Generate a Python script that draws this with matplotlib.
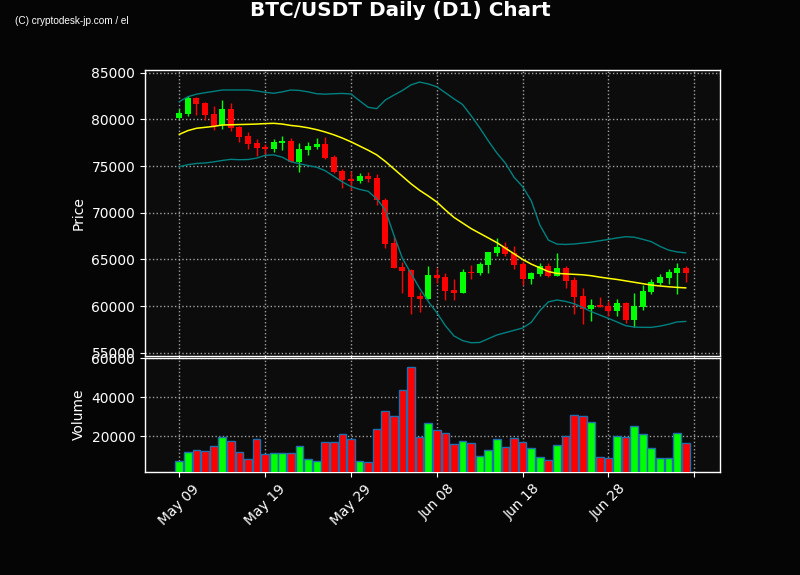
import numpy as np
import matplotlib
matplotlib.use("Agg")
import matplotlib.pyplot as plt

# ---- data ----
opens = [80150, 80600, 82290, 81720, 80575, 79360, 81110, 79180, 78220, 77500,
         77040, 76860, 77500, 77680, 75460, 76720, 77000, 77390, 75970, 74470,
         73610, 73400, 73930, 73730, 71400, 66750, 64180, 63860, 61075, 60790,
         63325, 63110, 61720, 61400, 63680, 63570, 64430, 65690, 66290, 65710,
         64500, 62930, 63430, 64320, 63250, 64075, 62790, 61075, 59710, 60110,
         60000, 59500, 60330, 58500, 59930, 61500, 62470, 63000, 63540, 64075]
highs = [81100, 82500, 82400, 81830, 81430, 82075, 81720, 79290, 78610, 77860,
         77360, 77930, 78220, 77970, 77440, 77540, 77970, 78080, 76180, 74650,
         74500, 74220, 74330, 74130, 71550, 67430, 64750, 63940, 61500, 64290,
         64110, 63510, 62860, 63940, 64400, 64750, 65830, 67260, 66890, 66430,
         64790, 63640, 64580, 64580, 65650, 64290, 63140, 61900, 60730, 60940,
         60570, 60730, 60450, 61360, 62250, 62930, 63430, 63930, 64640, 64290]
lows = [80050, 80330, 80440, 79900, 78830, 78940, 78720, 77600, 76790, 76075,
        76150, 76540, 76720, 75400, 74330, 76150, 76860, 75720, 74220, 72610,
        72430, 73150, 73320, 70800, 66190, 64040, 61360, 59150, 59390, 60725,
        62440, 60650, 60680, 61380, 62860, 63360, 63570, 65320, 65360, 63940,
        62220, 62360, 63220, 63140, 63180, 61900, 59120, 58075, 58370, 59890,
        58960, 58900, 58200, 57790, 59570, 61260, 62250, 62390, 61260, 62610]
closes = [80680, 82290, 81680, 80500, 79290, 81110, 79110, 78140, 77390, 76960,
          76860, 77575, 77680, 75460, 76830, 77180, 77360, 75860, 74360, 73540,
          73430, 73930, 73610, 71380, 66650, 64075, 63790, 61000, 60790, 63325,
          63040, 61640, 61400, 63650, 63570, 64500, 65760, 66330, 65610, 64430,
          62930, 63540, 64290, 63250, 64075, 62680, 61000, 59680, 60140, 59930,
          59500, 60330, 58540, 60000, 61610, 62580, 63140, 63640, 64110, 63540]
volumes = [7180, 11790, 12820, 12310, 15030, 19490, 17440, 11790, 8200, 18460,
           10770, 11280, 11280, 11280, 15030, 8200, 7180, 16920, 16920, 21030,
           18460, 7180, 6670, 23590, 32820, 30410, 43740, 55380, 19490, 26670,
           23080, 21540, 16050, 17440, 16410, 9740, 12820, 18460, 14360, 18970,
           16920, 13850, 9230, 7690, 15380, 20000, 30770, 30260, 27180, 9230,
           8720, 20000, 19490, 25130, 21030, 13850, 8720, 8720, 21540, 16410]
ma20 = [78400, 78800, 79050, 79150, 79250, 79400, 79420, 79450, 79470, 79500,
        79550, 79580, 79500, 79350, 79250, 79100, 78900, 78650, 78350, 78000,
        77600, 77150, 76700, 76200, 75500, 74700, 73900, 73100, 72400, 71800,
        71150, 70300, 69500, 68900, 68300, 67800, 67300, 66800, 66200, 65600,
        65000, 64500, 64100, 63700, 63500, 63450, 63400, 63350, 63250, 63100,
        62970, 62850, 62700, 62550, 62400, 62250, 62150, 62070, 62000, 61950]
bb_upper = [81900, 82430, 82700, 82860, 83000, 83150, 83150, 83150, 83150, 83050,
            82900, 82800, 82950, 83150, 83100, 82950, 82750, 82700, 82750, 82780,
            82720, 82000, 81300, 81150, 82075, 82600, 83100, 83700, 84000, 83800,
            83500, 82850, 82200, 81600, 80400, 79100, 77700, 76400, 75300, 73800,
            72800, 71300, 68700, 67070, 66640, 66600, 66650, 66750, 66850, 67000,
            67140, 67300, 67430, 67380, 67150, 66900, 66400, 66000, 65800, 65700]
bb_lower = [74930, 75150, 75280, 75330, 75450, 75600, 75720, 75680, 75700, 75850,
            76150, 76200, 75950, 75460, 75250, 75050, 74880, 74500, 73900, 73300,
            72800, 72500, 72300, 71500, 70300, 67600, 65100, 63500, 61900, 60500,
            59300, 57900, 56800, 56300, 56070, 56100, 56500, 56900, 57150, 57400,
            57650, 58250, 59500, 60450, 60650, 60500, 60250, 59850, 59400, 59040,
            58680, 58300, 57900, 57750, 57720, 57720, 57850, 58050, 58300, 58350]
date_tick_labels = ["May 09", "May 19", "May 29", "Jun 08", "Jun 18", "Jun 28", ""]
price_ticks = [55000, 60000, 65000, 70000, 75000, 80000, 85000]
volume_ticks = [20000, 40000, 60000]

# ---- styling ----
FIG_BG = "#050505"
AX_BG = "#0c0c0c"
UP = "#00ff00"
DOWN = "#ff0000"

o = np.array(opens, float)
h = np.array(highs, float)
l = np.array(lows, float)
c = np.array(closes, float)
v = np.array(volumes, float)
x = np.arange(len(o))
colors = [UP if cc >= oo else DOWN for oo, cc in zip(o, c)]

fig = plt.figure(figsize=(8, 5.75), dpi=100, facecolor=FIG_BG)
ax = fig.add_axes([145/800, 1-356/575, 575/800, (356-70.3)/575])
axv = fig.add_axes([145/800, 1-472/575, 575/800, (472-357.5)/575], sharex=ax)

for a in (ax, axv):
    a.set_facecolor(AX_BG)
    for s in a.spines.values():
        s.set_color("white")
        s.set_linewidth(1.0)
    a.tick_params(colors="white", labelsize=10)
    a.grid(True, color="#a0a0a0", linestyle=":", linewidth=1.0)
    a.set_axisbelow(True)

# candles
ax.vlines(x, l, h, colors=colors, linewidth=1.0, zorder=2)
body_bottom = np.minimum(o, c)
body_height = np.maximum(np.abs(c - o), 20)
ax.bar(x, body_height, bottom=body_bottom, width=0.7, color=colors,
       linewidth=0, zorder=3)

# indicators
ax.plot(x, bb_upper, color="#008080", linewidth=1.0, zorder=4)
ax.plot(x, bb_lower, color="#008080", linewidth=1.0, zorder=4)
ax.plot(x, ma20, color="#ffff00", linewidth=1.1, zorder=4)

ax.set_xlim(-4, 63)
ax.set_ylim(54650, 85260)
ax.set_yticks(price_ticks)
ax.set_ylabel("Price", color="white", fontsize=10)
plt.setp(ax.get_xticklabels(), visible=False)

# volume
axv.bar(x, v, width=0.9, color=colors, edgecolor="#1f6fb0", linewidth=1.0,
        zorder=3)
axv.set_ylim(1700, 60400)
axv.set_yticks(volume_ticks)
axv.set_ylabel("Volume", color="white", fontsize=10)
tick_pos = np.arange(len(date_tick_labels)) * 10
axv.set_xticks(tick_pos)
axv.set_xticklabels(date_tick_labels, rotation=45, color="white", fontsize=10)
ax.set_xlim(-4, 63)

fig.text(0.5, 1-11/575, "BTC/USDT Daily (D1) Chart", color="white",
         fontsize=14.4, fontweight="bold", ha="center", va="center")
fig.text(15/800, 1-21/575, "(C) cryptodesk-jp.com / el", color="white",
         fontsize=7.2, family=["Liberation Sans", "DejaVu Sans"],
         ha="left", va="center")

fig.savefig("out.png", dpi=100, facecolor=FIG_BG)
